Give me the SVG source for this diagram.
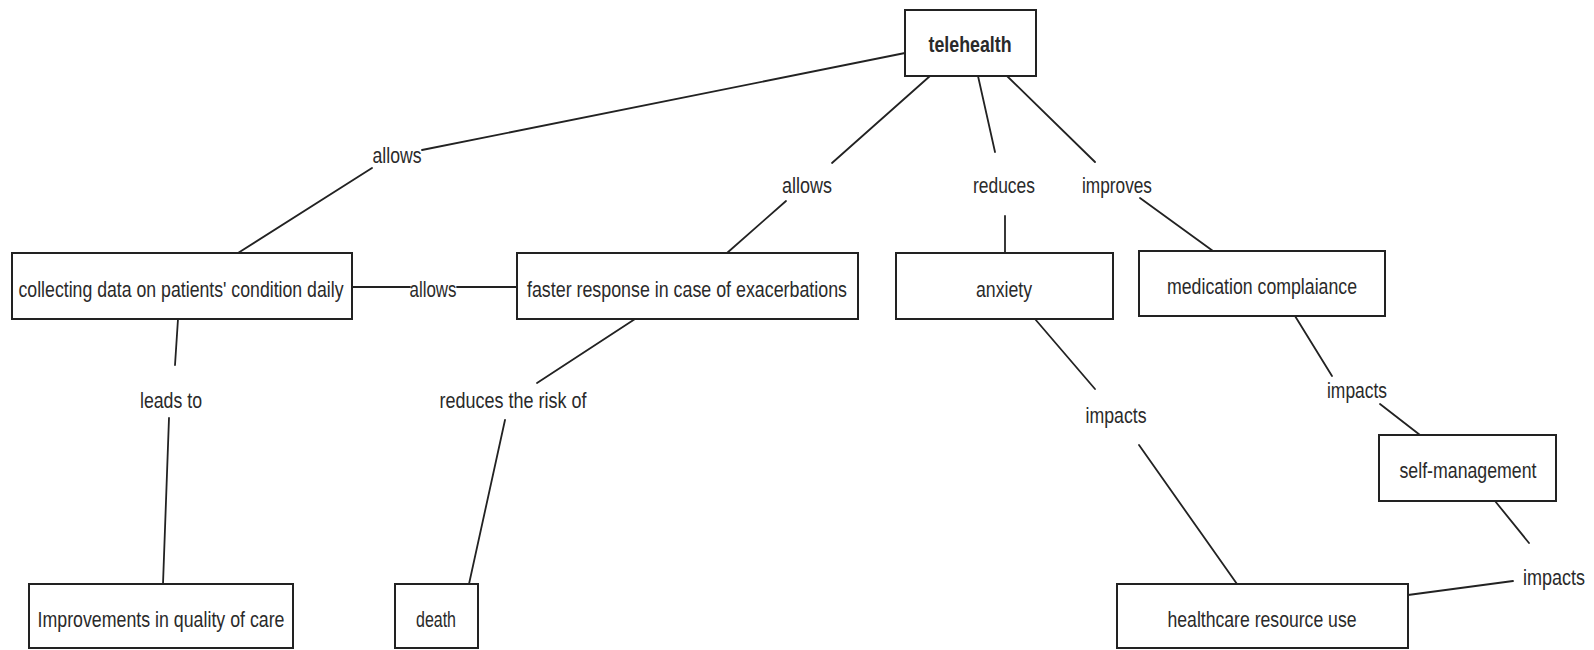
<svg xmlns="http://www.w3.org/2000/svg" width="1594" height="650" viewBox="0 0 1594 650">
  <style>
    .box { fill: #ffffff; stroke: #222222; stroke-width: 2; }
    .t { font-family: "Liberation Sans", Arial, sans-serif; font-size: 22px; fill: #2a2a2a; text-anchor: middle; }
    .b { font-weight: bold; }
    .c { stroke: #222222; stroke-width: 1.8; fill: none; stroke-linecap: round; }
  </style>
  <rect x="0" y="0" width="1594" height="650" fill="#ffffff"/>

  <!-- connectors and their link labels -->
  <g id="connectors">
    <line class="c" x1="905" y1="53" x2="422" y2="150"/>
    <line class="c" x1="372" y1="168" x2="238" y2="253"/>
    <text class="t" x="397" y="163" textLength="49" lengthAdjust="spacingAndGlyphs">allows</text>

    <line class="c" x1="930" y1="76" x2="832" y2="163"/>
    <line class="c" x1="786" y1="201" x2="727" y2="253"/>
    <text class="t" x="807" y="193" textLength="50" lengthAdjust="spacingAndGlyphs">allows</text>

    <line class="c" x1="978" y1="76" x2="995" y2="152"/>
    <line class="c" x1="1005" y1="216" x2="1005" y2="253"/>
    <text class="t" x="1004" y="193" textLength="62" lengthAdjust="spacingAndGlyphs">reduces</text>

    <line class="c" x1="1007" y1="76" x2="1095" y2="162"/>
    <line class="c" x1="1140" y1="198" x2="1213" y2="251"/>
    <text class="t" x="1117" y="193" textLength="70" lengthAdjust="spacingAndGlyphs">improves</text>

    <line class="c" x1="352" y1="287" x2="410" y2="287"/>
    <line class="c" x1="457" y1="287" x2="517" y2="287"/>
    <text class="t" x="433" y="297" textLength="47" lengthAdjust="spacingAndGlyphs">allows</text>

    <line class="c" x1="178" y1="319" x2="175" y2="365"/>
    <line class="c" x1="169" y1="418" x2="163" y2="584"/>
    <text class="t" x="171" y="408" textLength="62" lengthAdjust="spacingAndGlyphs">leads to</text>

    <line class="c" x1="635" y1="319" x2="537" y2="383"/>
    <line class="c" x1="505" y1="420" x2="469" y2="584"/>
    <text class="t" x="513" y="408" textLength="147" lengthAdjust="spacingAndGlyphs">reduces the risk of</text>

    <line class="c" x1="1035" y1="319" x2="1095" y2="389"/>
    <line class="c" x1="1139" y1="445" x2="1237" y2="584"/>
    <text class="t" x="1116" y="423" textLength="61" lengthAdjust="spacingAndGlyphs">impacts</text>

    <line class="c" x1="1295" y1="316" x2="1332" y2="376"/>
    <line class="c" x1="1380" y1="404" x2="1420" y2="435"/>
    <text class="t" x="1357" y="398" textLength="60" lengthAdjust="spacingAndGlyphs">impacts</text>

    <line class="c" x1="1495" y1="501" x2="1529" y2="543"/>
    <line class="c" x1="1513" y1="581" x2="1408" y2="595"/>
    <text class="t" x="1554" y="585" textLength="62" lengthAdjust="spacingAndGlyphs">impacts</text>
  </g>

  <!-- concept nodes -->
  <g id="telehealth">
    <rect class="box" x="905" y="10" width="131" height="66"/>
    <text class="t b" x="970" y="52" textLength="83" lengthAdjust="spacingAndGlyphs">telehealth</text>
  </g>
  <g id="collecting-data">
    <rect class="box" x="12" y="253" width="340" height="66"/>
    <text class="t" x="181" y="297" textLength="325" lengthAdjust="spacingAndGlyphs">collecting data on patients' condition daily</text>
  </g>
  <g id="faster-response">
    <rect class="box" x="517" y="253" width="341" height="66"/>
    <text class="t" x="687" y="297" textLength="320" lengthAdjust="spacingAndGlyphs">faster response in case of exacerbations</text>
  </g>
  <g id="anxiety">
    <rect class="box" x="896" y="253" width="217" height="66"/>
    <text class="t" x="1004" y="297" textLength="56" lengthAdjust="spacingAndGlyphs">anxiety</text>
  </g>
  <g id="medication-compliance">
    <rect class="box" x="1139" y="251" width="246" height="65"/>
    <text class="t" x="1262" y="294" textLength="190" lengthAdjust="spacingAndGlyphs">medication complaiance</text>
  </g>
  <g id="self-management">
    <rect class="box" x="1379" y="435" width="177" height="66"/>
    <text class="t" x="1468" y="478" textLength="137" lengthAdjust="spacingAndGlyphs">self-management</text>
  </g>
  <g id="quality-of-care">
    <rect class="box" x="29" y="584" width="264" height="64"/>
    <text class="t" x="161" y="627" textLength="247" lengthAdjust="spacingAndGlyphs">Improvements in quality of care</text>
  </g>
  <g id="death">
    <rect class="box" x="395" y="584" width="83" height="64"/>
    <text class="t" x="436" y="627" textLength="40" lengthAdjust="spacingAndGlyphs">death</text>
  </g>
  <g id="healthcare-resource-use">
    <rect class="box" x="1117" y="584" width="291" height="64"/>
    <text class="t" x="1262" y="627" textLength="189" lengthAdjust="spacingAndGlyphs">healthcare resource use</text>
  </g>
</svg>
